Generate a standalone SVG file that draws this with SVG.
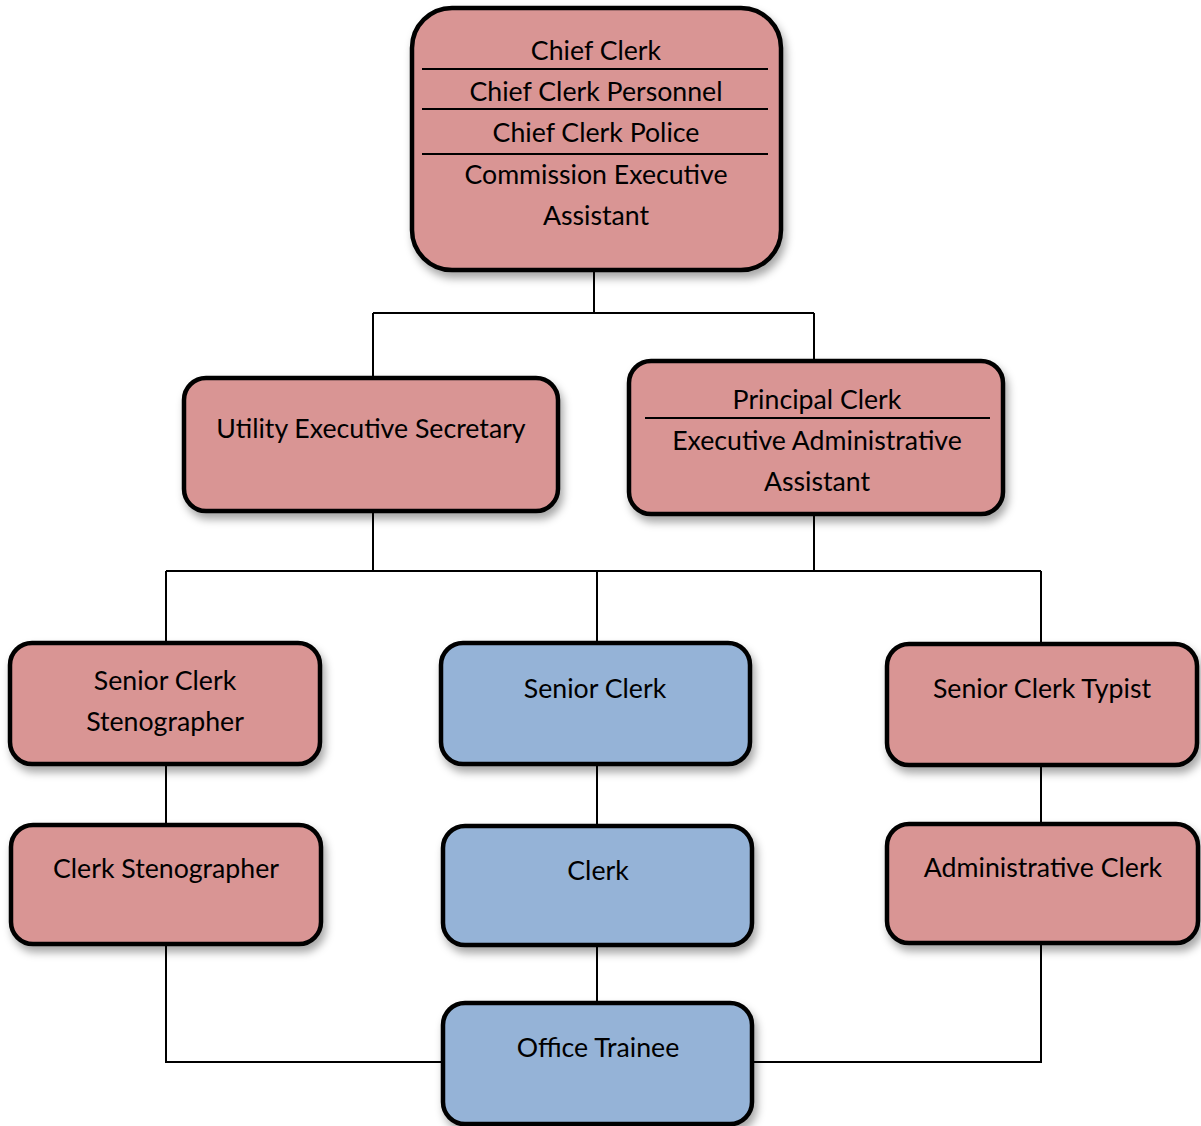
<svg xmlns="http://www.w3.org/2000/svg" width="1201" height="1126" viewBox="0 0 1201 1126">
<defs>
<filter id="sh" x="-10%" y="-10%" width="130%" height="140%">
<feDropShadow dx="3" dy="6" stdDeviation="4" flood-color="#000" flood-opacity="0.35"/>
</filter>
<style>
.r{fill:#D99594;stroke:#000;stroke-width:4.5;filter:url(#sh)}
.b{fill:#95B3D7;stroke:#000;stroke-width:4.5;filter:url(#sh)}
.t{font-family:Lato,"Liberation Sans",sans-serif;font-size:26.7px;fill:#000;text-anchor:middle}
.sep{stroke:#000;stroke-width:2}
.c{fill:none;stroke:#000;stroke-width:2}
</style>
</defs>
<rect width="1201" height="1126" fill="#fff"/>
<g id="connectors">
<path class="c" d="M594 270V313M373 313H814M373 313V378M814 313V361"/>
<path class="c" d="M373 511V571M814 514V571M166 571H1041M166 571V643M597 571V643M1041 571V644"/>
<path class="c" d="M166 764V825M597 764V826M1041 765V824"/>
<path class="c" d="M166 944V1062H443M1041 943V1062H752M597 945V1003"/>
</g>
<g id="chief">
<rect class="r" x="412" y="8" width="369" height="262" rx="40"/>
<line class="sep" x1="422" y1="69" x2="768" y2="69"/>
<line class="sep" x1="422" y1="109" x2="768" y2="109"/>
<line class="sep" x1="422" y1="154" x2="768" y2="154"/>
<text class="t" x="596" y="60">Chief Clerk</text>
<text class="t" x="596" y="101">Chief Clerk Personnel</text>
<text class="t" x="596" y="142">Chief Clerk Police</text>
<text class="t" x="596" y="184">Commission Executive</text>
<text class="t" x="596" y="225">Assistant</text>
</g>
<g id="utility">
<rect class="r" x="184" y="378" width="374" height="133" rx="22"/>
<text class="t" x="371" y="438">Utility Executive Secretary</text>
</g>
<g id="principal">
<rect class="r" x="629" y="361" width="374" height="153" rx="22"/>
<line class="sep" x1="645" y1="418" x2="990" y2="418"/>
<text class="t" x="817" y="409">Principal Clerk</text>
<text class="t" x="817" y="450">Executive Administrative</text>
<text class="t" x="817" y="491">Assistant</text>
</g>
<g id="senior-steno">
<rect class="r" x="10" y="643" width="310" height="121" rx="22"/>
<text class="t" x="165" y="690">Senior Clerk</text>
<text class="t" x="165" y="731">Stenographer</text>
</g>
<g id="senior-clerk">
<rect class="b" x="441" y="643" width="309" height="121" rx="22"/>
<text class="t" x="595" y="698">Senior Clerk</text>
</g>
<g id="senior-typist">
<rect class="r" x="887" y="644" width="310" height="121" rx="22"/>
<text class="t" x="1042" y="698">Senior Clerk Typist</text>
</g>
<g id="clerk-steno">
<rect class="r" x="11" y="825" width="310" height="119" rx="22"/>
<text class="t" x="166" y="878">Clerk Stenographer</text>
</g>
<g id="clerk">
<rect class="b" x="443" y="826" width="309" height="119" rx="22"/>
<text class="t" x="598" y="880">Clerk</text>
</g>
<g id="admin-clerk">
<rect class="r" x="887" y="824" width="311" height="119" rx="22"/>
<text class="t" x="1043" y="877">Administrative Clerk</text>
</g>
<g id="trainee">
<rect class="b" x="443" y="1003" width="309" height="121" rx="22"/>
<text class="t" x="598" y="1057">Office Trainee</text>
</g>
</svg>
